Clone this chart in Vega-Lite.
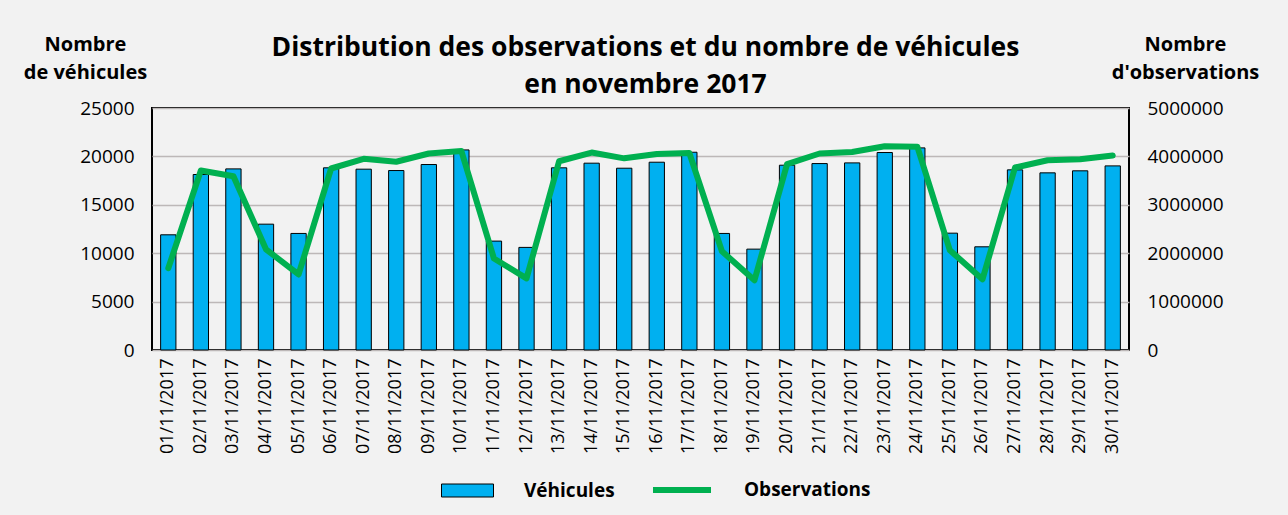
{
  "$schema": "https://vega.github.io/schema/vega-lite/v6.json",
  "width": 977,
  "height": 242,
  "autosize": {"type": "none"},
  "padding": {"left": 152, "top": 108, "right": 159, "bottom": 165},
  "background": "#f2f2f2",
  "config": {
    "font": "Open Sans",
    "view": {"stroke": "black", "strokeWidth": 2},
    "axis": {"labelFont": "Open Sans", "labelFontSize": 19, "labelColor": "black", "domain": false, "ticks": false}
  },
  "title": {
    "text": ["Distribution des observations et du nombre de véhicules", "en novembre 2017"],
    "font": "Open Sans",
    "fontSize": 26.5,
    "fontWeight": "bold",
    "color": "black",
    "anchor": "middle",
    "lineHeight": 37,
    "offset": 12,
    "dx": 5,
    "dy": 76
  },
  "data": {
    "values": [
      {"date": "01/11/2017", "vehicules": 11900, "observations": 1690000},
      {"date": "02/11/2017", "vehicules": 18130, "observations": 3710000},
      {"date": "03/11/2017", "vehicules": 18710, "observations": 3590000},
      {"date": "04/11/2017", "vehicules": 13000, "observations": 2080000},
      {"date": "05/11/2017", "vehicules": 12040, "observations": 1560000},
      {"date": "06/11/2017", "vehicules": 18820, "observations": 3750000},
      {"date": "07/11/2017", "vehicules": 18680, "observations": 3950000},
      {"date": "08/11/2017", "vehicules": 18540, "observations": 3890000},
      {"date": "09/11/2017", "vehicules": 19160, "observations": 4060000},
      {"date": "10/11/2017", "vehicules": 20670, "observations": 4110000},
      {"date": "11/11/2017", "vehicules": 11250, "observations": 1890000},
      {"date": "12/11/2017", "vehicules": 10600, "observations": 1480000},
      {"date": "13/11/2017", "vehicules": 18820, "observations": 3900000},
      {"date": "14/11/2017", "vehicules": 19300, "observations": 4080000},
      {"date": "15/11/2017", "vehicules": 18780, "observations": 3960000},
      {"date": "16/11/2017", "vehicules": 19400, "observations": 4050000},
      {"date": "17/11/2017", "vehicules": 20430, "observations": 4070000},
      {"date": "18/11/2017", "vehicules": 12040, "observations": 2040000},
      {"date": "19/11/2017", "vehicules": 10420, "observations": 1440000},
      {"date": "20/11/2017", "vehicules": 19090, "observations": 3840000},
      {"date": "21/11/2017", "vehicules": 19260, "observations": 4060000},
      {"date": "22/11/2017", "vehicules": 19330, "observations": 4090000},
      {"date": "23/11/2017", "vehicules": 20400, "observations": 4210000},
      {"date": "24/11/2017", "vehicules": 20880, "observations": 4200000},
      {"date": "25/11/2017", "vehicules": 12070, "observations": 2060000},
      {"date": "26/11/2017", "vehicules": 10660, "observations": 1460000},
      {"date": "27/11/2017", "vehicules": 18610, "observations": 3770000},
      {"date": "28/11/2017", "vehicules": 18300, "observations": 3920000},
      {"date": "29/11/2017", "vehicules": 18510, "observations": 3940000},
      {"date": "30/11/2017", "vehicules": 19020, "observations": 4020000}
    ]
  },
  "encoding": {
    "x": {
      "field": "date",
      "type": "ordinal",
      "sort": null,
      "scale": {"paddingInner": 0.53, "paddingOuter": 0.265},
      "axis": {"title": null, "labelAngle": -90, "labelPadding": 8, "labelFontSize": 18}
    }
  },
  "layer": [
    {
      "mark": {"type": "bar", "stroke": "black", "strokeWidth": 1},
      "encoding": {
        "y": {
          "field": "vehicules",
          "type": "quantitative",
          "scale": {"domain": [0, 25000], "nice": false},
          "axis": {
            "values": [0, 5000, 10000, 15000, 20000, 25000],
            "format": "d",
            "grid": true,
            "gridColor": "#bdb8b8",
            "gridWidth": 1.5,
            "labelPadding": 18,
            "title": ["Nombre", "de véhicules"],
            "titleAngle": 0,
            "titleAlign": "center",
            "titleBaseline": "top",
            "titleX": -67,
            "titleY": -74,
            "titleFont": "Open Sans",
            "titleFontSize": 20,
            "titleFontWeight": "bold",
            "titleColor": "black",
            "titleLineHeight": 28
          }
        },
        "fill": {
          "datum": "Véhicules",
          "scale": {"range": ["#00b0f0"]},
          "legend": {
            "orient": "none",
            "legendX": 289,
            "legendY": 356,
            "title": null,
            "symbolType": "M-1,-0.25H1V0.25H-1Z",
            "symbolSize": 2704,
            "symbolStrokeColor": "black",
            "symbolStrokeWidth": 1,
            "labelFont": "Open Sans",
            "labelFontSize": 19,
            "labelFontWeight": "bold",
            "labelColor": "black",
            "labelOffset": 30
          }
        }
      }
    },
    {
      "mark": {"type": "line", "strokeWidth": 6, "strokeJoin": "round", "strokeCap": "round"},
      "encoding": {
        "y": {
          "field": "observations",
          "type": "quantitative",
          "scale": {"domain": [0, 5000000], "nice": false},
          "axis": {
            "orient": "right",
            "values": [0, 1000000, 2000000, 3000000, 4000000, 5000000],
            "format": "d",
            "grid": false,
            "labelPadding": 18,
            "title": ["Nombre", "d'observations"],
            "titleAngle": 0,
            "titleAlign": "center",
            "titleBaseline": "top",
            "titleX": 56,
            "titleY": -74,
            "titleFont": "Open Sans",
            "titleFontSize": 20,
            "titleFontWeight": "bold",
            "titleColor": "black",
            "titleLineHeight": 28
          }
        },
        "stroke": {
          "datum": "Observations",
          "scale": {"range": ["#00b050"]},
          "legend": {
            "orient": "none",
            "legendX": 498,
            "legendY": 350,
            "title": null,
            "symbolType": "stroke",
            "symbolSize": 3364,
            "symbolStrokeWidth": 6,
            "labelFont": "Open Sans",
            "labelFontSize": 19,
            "labelFontWeight": "bold",
            "labelColor": "black",
            "labelOffset": 30
          }
        }
      }
    }
  ],
  "resolve": {"scale": {"y": "independent"}}
}
